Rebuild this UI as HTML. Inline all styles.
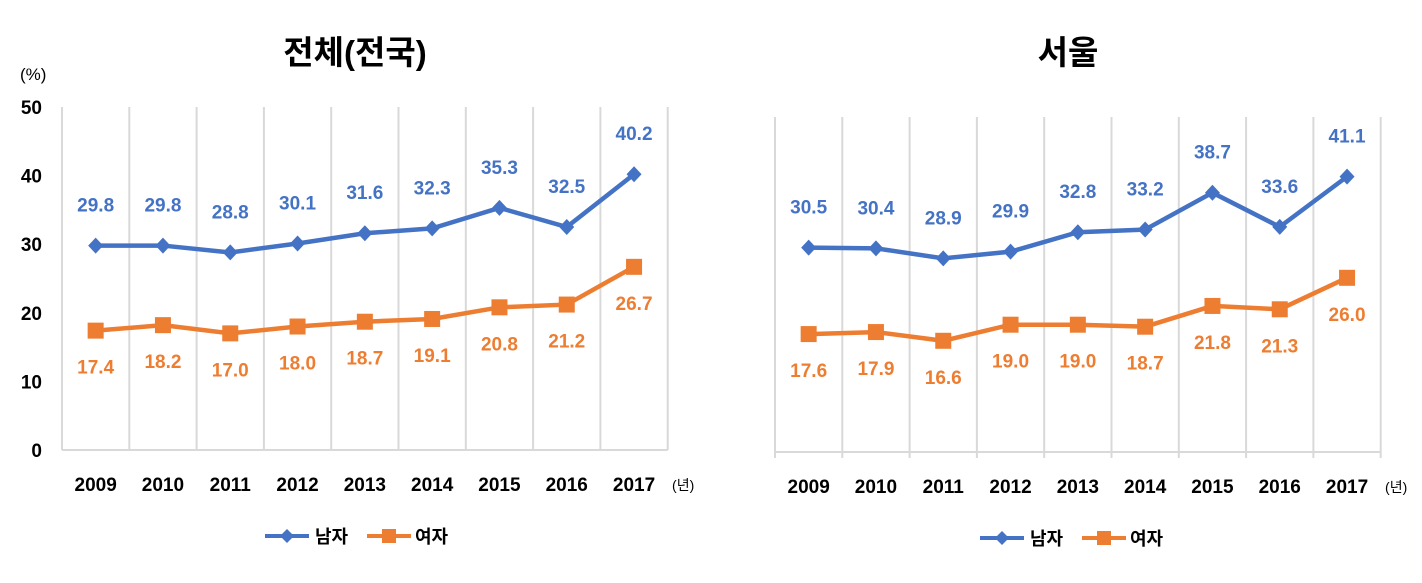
<!DOCTYPE html>
<html><head><meta charset="utf-8"><style>
body{margin:0;background:#fff;}
svg text{font-family:"Liberation Sans","Noto Sans CJK KR",sans-serif;}
</style></head><body>
<svg id="c" width="1422" height="578"></svg>
<script>
const years=["2009","2010","2011","2012","2013","2014","2015","2016","2017"];
const natMale=[29.8,29.8,28.8,30.1,31.6,32.3,35.3,32.5,40.2];
const natFemale=[17.4,18.2,17.0,18.0,18.7,19.1,20.8,21.2,26.7];
const seoulMale=[30.5,30.4,28.9,29.9,32.8,33.2,38.7,33.6,41.1];
const seoulFemale=[17.6,17.9,16.6,19.0,19.0,18.7,21.8,21.3,26.0];
const yTicks=[0,10,20,30,40,50];
const NS="http://www.w3.org/2000/svg";
const svg=document.getElementById('c');
function mk(tag,attrs,parent){const e=document.createElementNS(NS,tag);for(const k in attrs)e.setAttribute(k,attrs[k]);(parent||svg).appendChild(e);return e;}
function chart(cfg){
  const g=mk('g',{});
  
  
  const x0=cfg.x0,step=cfg.step,y0=cfg.y0,sc=cfg.sc;
  const X=i=>x0+step*(i+0.5);
  const Y=v=>y0-v*sc;
  for(let k=0;k<=years.length;k++){
    const l=mk('line',{x1:x0+step*k,x2:x0+step*k,y1:Y(50),y2:y0+(cfg.ticks?6:0),stroke:'#d9d9d9','stroke-width':2},g);
    
    
  }
  const ax=mk('line',{x1:x0,x2:x0+step*years.length,y1:y0,y2:y0,stroke:'#d9d9d9','stroke-width':2},g);
  
  
  if(cfg.yaxis){
    yTicks.forEach(v=>{const t=mk('text',{x:x0-20,y:Y(v)+7,'text-anchor':'end','font-size':19,'font-weight':'bold',fill:'#000'},g);t.textContent=v;
      
      });
  }
  years.forEach((yr,i)=>{const t=mk('text',{x:X(i),y:y0+41,'text-anchor':'middle','font-size':19,'font-weight':'bold',fill:'#000'},g);t.textContent=yr;
    
    });
  const u=mk('text',{x:X(8)+38,y:y0+40,'font-size':14,fill:'#000'},g);u.textContent='(년)';
  
  
  const series=[[cfg.male,'#4472c4','diamond',-1],[cfg.female,'#ed7d31','square',1]];
  series.forEach(([vals,col,mt,dir])=>{
    const p=mk('polyline',{points:vals.map((v,i)=>X(i)+','+Y(v)).join(' '),fill:'none',stroke:col,'stroke-width':4.5},g);
    
    
    vals.forEach((v,i)=>{
      let m;
      if(mt==='diamond') m=mk('polygon',{points:`${X(i)},${Y(v)-8} ${X(i)+7.5},${Y(v)} ${X(i)},${Y(v)+8} ${X(i)-7.5},${Y(v)}`,fill:col},g);
      else m=mk('rect',{x:X(i)-8,y:Y(v)-8,width:16,height:16,fill:col},g);
      
      
      const t=mk('text',{x:X(i),y:dir<0?Y(v)-34:Y(v)+43,'text-anchor':'middle','font-size':19,'font-weight':'bold',fill:col},g);
      t.textContent=v.toFixed(1);
      
      
    });
  });
  const tt=mk('text',{x:cfg.tx,y:64,'text-anchor':'middle','font-size':33,'font-weight':'bold',fill:'#000'},g);tt.textContent=cfg.title;
  
  
  const lx=cfg.lx,ly=cfg.ly;
  mk('line',{x1:lx,x2:lx+44,y1:ly,y2:ly,stroke:'#4472c4','stroke-width':4},g);
  mk('polygon',{points:`${lx+22},${ly-7} ${lx+29},${ly} ${lx+22},${ly+7} ${lx+15},${ly}`,fill:'#4472c4'},g);
  const l1=mk('text',{x:lx+50,y:ly+7,'font-size':18,'font-weight':'bold',fill:'#000'},g);l1.textContent='남자';
  
  
  mk('line',{x1:lx+102,x2:lx+146,y1:ly,y2:ly,stroke:'#ed7d31','stroke-width':4},g);
  mk('rect',{x:lx+117,y:ly-7,width:14,height:14,fill:'#ed7d31'},g);
  const l2=mk('text',{x:lx+150,y:ly+7,'font-size':18,'font-weight':'bold',fill:'#000'},g);l2.textContent='여자';
  
  
}
chart({name:'national-chart',title:'전체(전국)',tx:355,x0:62,step:67.3,y0:450,sc:6.86,male:natMale,female:natFemale,yaxis:true,ticks:false,lx:265,ly:536});
chart({name:'seoul-chart',title:'서울',tx:1068,x0:775,step:67.3,y0:452,sc:6.7,male:seoulMale,female:seoulFemale,yaxis:false,ticks:true,lx:980,ly:538});
const pc=mk('text',{x:20,y:80,'font-size':17,fill:'#000'});pc.textContent='(%)';


</script>
</body></html>
